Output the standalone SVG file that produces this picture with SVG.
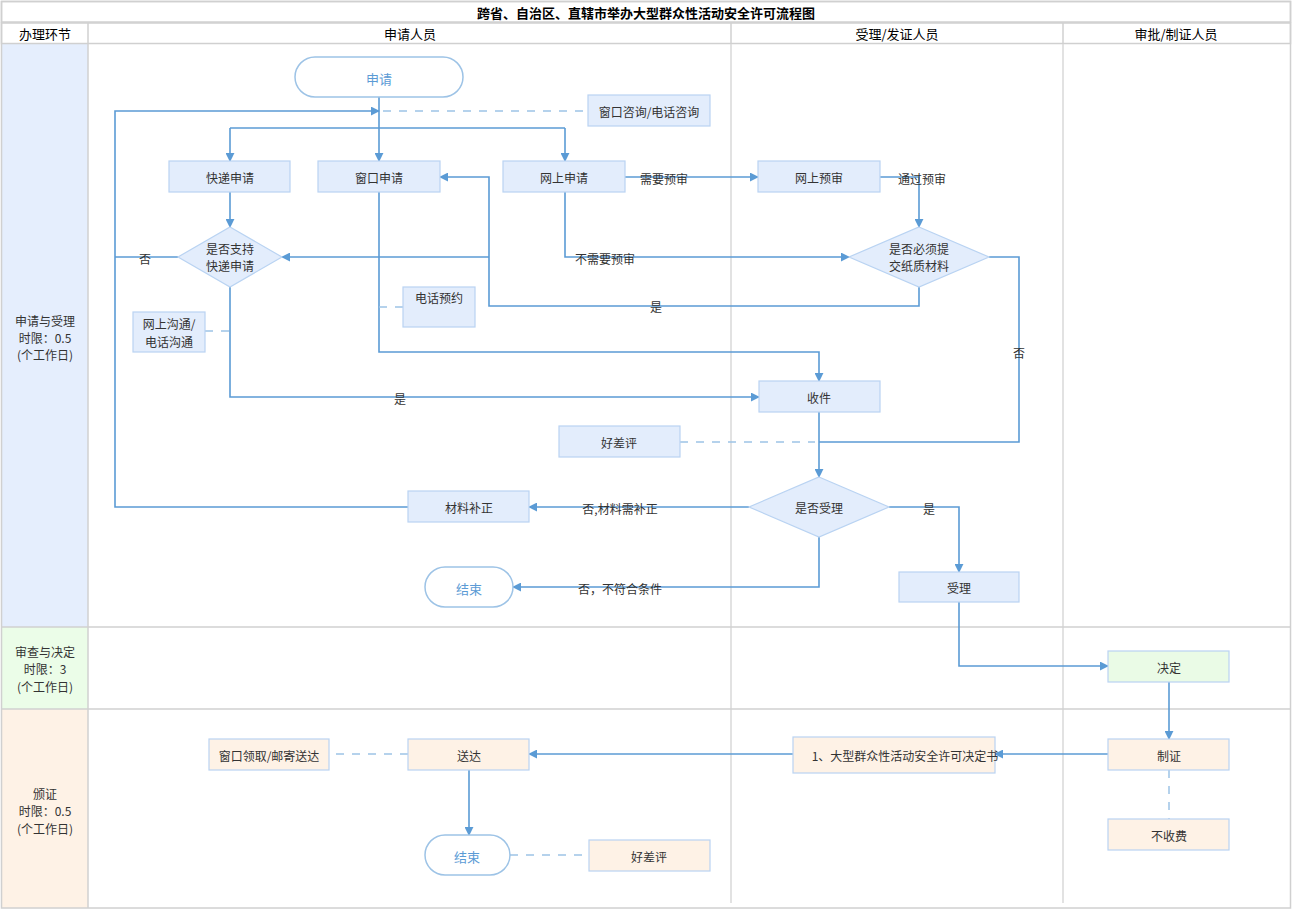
<svg xmlns="http://www.w3.org/2000/svg" width="1315" height="910" viewBox="0 0 1315 910">
<defs>
<style>
text{font-family:"Noto Sans CJK SC","Liberation Sans",sans-serif;font-size:12px;fill:#333;text-anchor:middle;dominant-baseline:central}
.title{font-weight:bold;font-size:13px;fill:#000}
.hdr{font-size:13px;fill:#000}
.grid{fill:none;stroke:#D0D0D0;stroke-width:1.5}
.lane{stroke:#D9D9D9;stroke-width:1.5}
.box{fill:#E3EDFC;stroke:#B9D3F2;stroke-width:1.2}
.boxg{fill:#EAFBE6;stroke:#B9D3F2;stroke-width:1.2}
.boxo{fill:#FEF2E6;stroke:#B9D3F2;stroke-width:1.2}
.term{fill:#fff;stroke:#9DC3E6;stroke-width:1.5}
.tt{fill:#5B9BD5;font-size:13px}
.ln{fill:none;stroke:#5B9BD5;stroke-width:1.6}
.ar{fill:none;stroke:#5B9BD5;stroke-width:1.6;marker-end:url(#a)}
.ds{fill:none;stroke:#9DC3E6;stroke-width:1.5;stroke-dasharray:8 8}
</style>
<marker id="a" viewBox="0 0 10 10" refX="9" refY="5" markerWidth="9" markerHeight="9" markerUnits="userSpaceOnUse" orient="auto">
<path d="M0,0 L10,5 L0,10 z" fill="#5B9BD5"/>
</marker>
</defs>
<rect width="1315" height="910" fill="#fff"/>
<g id="table">
<rect x="2" y="44" width="86" height="583" fill="#E5EEFD"/>
<rect x="2" y="627" width="86" height="82" fill="#EBFDE8"/>
<rect x="2" y="709" width="86" height="199" fill="#FEF2E6"/>
<rect class="grid" x="1.5" y="1.5" width="1289" height="906.5"/>
<rect class="grid" x="1.5" y="1.5" width="1289" height="20.5"/>
<rect class="grid" x="1.5" y="23" width="1289" height="20.5"/>
<line class="grid" x1="88" y1="23" x2="88" y2="908"/>
<line class="grid" x1="731" y1="23" x2="731" y2="43.5"/>
<line class="grid" x1="1063" y1="23" x2="1063" y2="43.5"/>
<line class="lane" x1="731" y1="44" x2="731" y2="903"/>
<line class="lane" x1="1063" y1="44" x2="1063" y2="903"/>
<line class="grid" x1="2" y1="627" x2="1290" y2="627"/>
<line class="grid" x1="2" y1="709" x2="1290" y2="709"/>
<text class="title" x="646" y="12">跨省、自治区、直辖市举办大型群众性活动安全许可流程图</text>
<text class="hdr" x="45" y="33">办理环节</text>
<text class="hdr" x="410" y="33">申请人员</text>
<text class="hdr" x="897" y="33">受理/发证人员</text>
<text class="hdr" x="1176" y="33">审批/制证人员</text>
<text x="45" y="320">申请与受理</text>
<text x="45" y="337">时限：0.5</text>
<text x="45" y="354">(个工作日)</text>
<text x="45" y="651">审查与决定</text>
<text x="45" y="668">时限：3</text>
<text x="45" y="686">(个工作日)</text>
<text x="45" y="793">颁证</text>
<text x="45" y="810">时限：0.5</text>
<text x="45" y="828">(个工作日)</text>
</g>
<g id="connectors">
<path class="ar" d="M379,97 V161"/>
<path class="ln" d="M230,128 H565"/>
<path class="ar" d="M230,128 V161"/>
<path class="ar" d="M565,128 V161"/>
<path class="ar" d="M408,507 H115 V111 H379"/>
<path class="ln" d="M178,257 H115"/>
<path class="ds" d="M383,111 H588"/>
<path class="ar" d="M230,192 V227"/>
<path class="ar" d="M230,287 V397 H759"/>
<path class="ds" d="M205,331 H230"/>
<path class="ar" d="M379,192 V352 H819 V381"/>
<path class="ds" d="M403,307 H379"/>
<path class="ar" d="M625,177 H758"/>
<path class="ar" d="M880,177 H919 V227"/>
<path class="ar" d="M565,192 V257 H849"/>
<path class="ar" d="M919,287 V306 H489 V177 H440"/>
<path class="ar" d="M489,257 H282"/>
<path class="ln" d="M989,257 H1019 V442 H819"/>
<path class="ds" d="M680,442 H815"/>
<path class="ar" d="M819,412 V477"/>
<path class="ar" d="M749,507 H529"/>
<path class="ar" d="M819,537 V587 H513"/>
<path class="ar" d="M889,507 H959 V572"/>
<path class="ar" d="M959,602 V666 H1108"/>
<path class="ar" d="M1169,682 V739"/>
<path class="ar" d="M1108,754 H995"/>
<path class="ar" d="M793,754 H529"/>
<path class="ds" d="M1169,770 V819"/>
<path class="ds" d="M408,754 H329"/>
<path class="ar" d="M469,770 V835"/>
<path class="ds" d="M510,855 H589"/>
<text x="145" y="258">否</text>
<text x="400" y="398">是</text>
<text x="664" y="178">需要预审</text>
<text x="922" y="178">通过预审</text>
<text x="605" y="258">不需要预审</text>
<text x="656" y="306">是</text>
<text x="1019" y="352">否</text>
<text x="620" y="508">否,材料需补正</text>
<text x="620" y="588">否，不符合条件</text>
<text x="929" y="508">是</text>
</g>
<g id="n-start"><rect class="term" x="295" y="57" width="168" height="40" rx="20"/><text class="tt" x="379" y="78">申请</text></g>
<g id="n-consult"><rect class="box" x="588" y="95" width="122" height="31"/><text x="649" y="111">窗口咨询/电话咨询</text></g>
<g id="n-express"><rect class="box" x="169" y="161" width="121" height="31"/><text x="230" y="177">快递申请</text></g>
<g id="n-window"><rect class="box" x="318" y="161" width="122" height="31"/><text x="379" y="177">窗口申请</text></g>
<g id="n-online"><rect class="box" x="503" y="161" width="122" height="31"/><text x="564" y="177">网上申请</text></g>
<g id="n-precheck"><rect class="box" x="758" y="161" width="122" height="31"/><text x="819" y="177">网上预审</text></g>
<g id="n-d1"><polygon class="box" points="230,227 282,257 230,287 178,257"/><text x="230" y="248">是否支持</text><text x="230" y="265">快递申请</text></g>
<g id="n-d2"><polygon class="box" points="919,227 989,257 919,287 849,257"/><text x="919" y="248">是否必须提</text><text x="919" y="265">交纸质材料</text></g>
<g id="n-phone"><rect class="box" x="403" y="287" width="72" height="40"/><text x="439" y="297">电话预约</text></g>
<g id="n-comm"><rect class="box" x="133" y="312" width="72" height="40"/><text x="169" y="323">网上沟通/</text><text x="169" y="341">电话沟通</text></g>
<g id="n-receive"><rect class="box" x="759" y="381" width="121" height="31"/><text x="819" y="397">收件</text></g>
<g id="n-eval1"><rect class="box" x="559" y="426" width="121" height="31"/><text x="619" y="442">好差评</text></g>
<g id="n-d3"><polygon class="box" points="819,477 889,507 819,537 749,507"/><text x="819" y="507">是否受理</text></g>
<g id="n-supp"><rect class="box" x="408" y="491" width="121" height="31"/><text x="469" y="507">材料补正</text></g>
<g id="n-end1"><rect class="term" x="425" y="567" width="88" height="40" rx="20"/><text class="tt" x="469" y="588">结束</text></g>
<g id="n-accept"><rect class="box" x="899" y="572" width="120" height="30"/><text x="959" y="587">受理</text></g>
<g id="n-decide"><rect class="boxg" x="1108" y="651" width="121" height="31"/><text x="1169" y="667">决定</text></g>
<g id="n-make"><rect class="boxo" x="1108" y="739" width="121" height="31"/><text x="1169" y="755">制证</text></g>
<g id="n-nofee"><rect class="boxo" x="1108" y="819" width="121" height="31"/><text x="1169" y="835">不收费</text></g>
<g id="n-doc"><rect class="boxo" x="793" y="737" width="202" height="36"/><text x="905" y="755">1、大型群众性活动安全许可决定书</text></g>
<g id="n-deliver"><rect class="boxo" x="408" y="739" width="121" height="31"/><text x="469" y="755">送达</text></g>
<g id="n-pickup"><rect class="boxo" x="209" y="739" width="120" height="31"/><text x="269" y="755">窗口领取/邮寄送达</text></g>
<g id="n-end2"><rect class="term" x="425" y="835" width="85" height="40" rx="20"/><text class="tt" x="467" y="856">结束</text></g>
<g id="n-eval2"><rect class="boxo" x="589" y="840" width="121" height="31"/><text x="649" y="856">好差评</text></g>
</svg>
